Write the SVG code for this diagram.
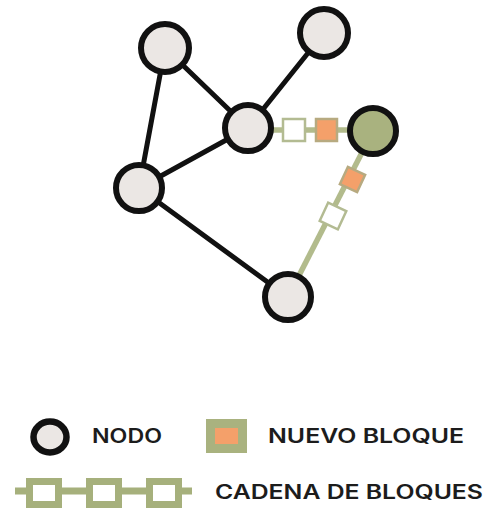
<svg xmlns="http://www.w3.org/2000/svg" width="488" height="511" viewBox="0 0 488 511">
<style>
.node{fill:#ebe7e4;stroke:#111;stroke-width:6}
.gnode{fill:#a9b27f;stroke:#111;stroke-width:6}
.edge{stroke:#111;stroke-width:5;fill:none;stroke-linecap:round}
.gedge{stroke:#b2bb8c;stroke-width:5.5;fill:none}
.wblk{fill:#fff;stroke:#b3bb92;stroke-width:2.5}
.oblk{fill:#f4a06a;stroke:#b7aa80;stroke-width:2.5}
.lbl{font-family:Inter,"Liberation Sans",Arial,sans-serif;font-weight:600;font-size:19.5px;fill:#1c1c1c}
.chain{fill:none;stroke:#a6b07c;stroke-width:7}
.cblk{fill:#fff;stroke:#a6b07c;stroke-width:7}
</style>
<rect width="488" height="511" fill="#fff"/>
<g id="connectors">
<line class="edge" x1="165" y1="48" x2="139" y2="188"/>
<line class="edge" x1="165" y1="48" x2="248" y2="128"/>
<line class="edge" x1="324" y1="33" x2="248" y2="128"/>
<line class="edge" x1="248" y1="128" x2="139" y2="188"/>
<line class="edge" x1="139" y1="188" x2="288" y2="297"/>
<line class="gedge" x1="248" y1="130" x2="373" y2="130"/>
<line class="gedge" x1="373" y1="131" x2="288" y2="297"/>
<rect class="wblk" x="283" y="119" width="22" height="22"/>
<rect class="oblk" x="316" y="119" width="21" height="22"/>
<rect class="oblk" x="343" y="170" width="19" height="19" transform="rotate(25 352.5 179.5)"/>
<rect class="wblk" x="323" y="206" width="20" height="20" transform="rotate(25 333 216)"/>
</g>
<g id="node-a"><circle class="node" cx="165" cy="48" r="24"/></g>
<g id="node-b"><circle class="node" cx="324" cy="33" r="24"/></g>
<g id="node-c"><circle class="node" cx="248" cy="128" r="23"/></g>
<g id="node-d"><circle class="gnode" cx="373" cy="131" r="23"/></g>
<g id="node-e"><circle class="node" cx="139" cy="188" r="23"/></g>
<g id="node-f"><circle class="node" cx="288" cy="297" r="23"/></g>
<g id="legend">
<ellipse cx="50" cy="437" rx="16.5" ry="15.5" fill="#ebe7e4" stroke="#111" stroke-width="6.5"/>
<text class="lbl" x="92" y="443" textLength="70" lengthAdjust="spacingAndGlyphs">NODO</text>
<rect x="210.5" y="423.5" width="32" height="25" fill="#f4a06a" stroke="#a9b27f" stroke-width="9"/>
<text class="lbl" x="268" y="443" textLength="196" lengthAdjust="spacingAndGlyphs">NUEVO BLOQUE</text>
<g id="legend-chain">
<line class="chain" x1="15" y1="491" x2="192" y2="491"/>
<rect class="cblk" x="29.5" y="481.5" width="29" height="23"/>
<rect class="cblk" x="89.5" y="481.5" width="29" height="23"/>
<rect class="cblk" x="149.5" y="481.5" width="29" height="23"/>
</g>
<text class="lbl" x="215" y="499" textLength="268" lengthAdjust="spacingAndGlyphs">CADENA DE BLOQUES</text>
</g>
</svg>
